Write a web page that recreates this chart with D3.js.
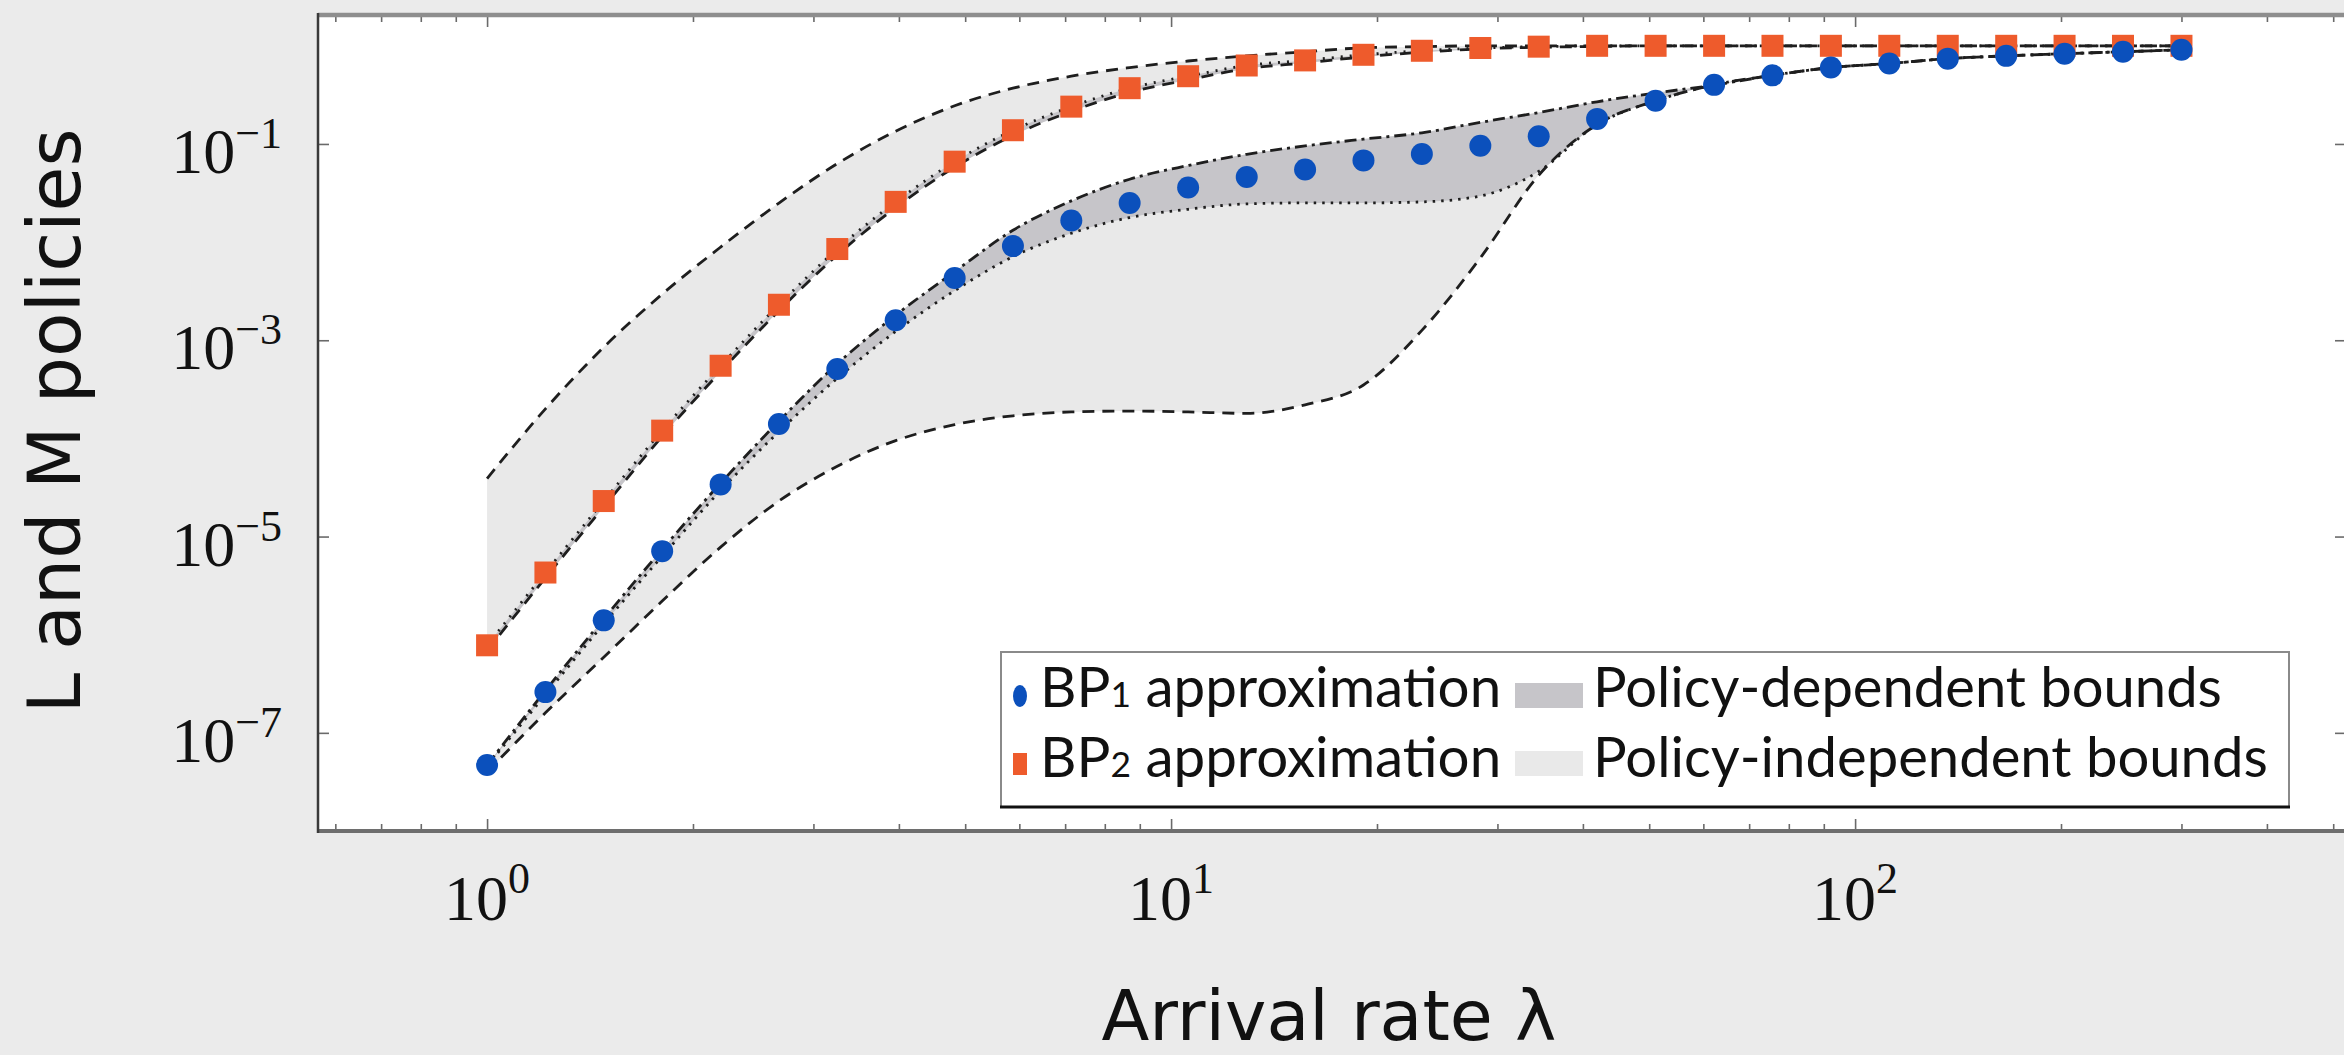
<!DOCTYPE html>
<html>
<head>
<meta charset="utf-8">
<script src="https://cdn.jsdelivr.net/npm/d3@7"></script>
<style>
  html, body { margin: 0; padding: 0; background: #ebebeb; }
  svg { display: block; }
</style>
</head>
<body>
<div id="chart"></div>
<script>
// arrival rates, one marker per value
const lambda = [1, 1.217, 1.481, 1.803, 2.195, 2.671, 3.251, 3.957, 4.826, 5.872,
  7.147, 8.698, 10.59, 12.90, 15.70, 19.11, 23.26, 28.32, 34.47, 41.96,
  51.09, 62.21, 75.72, 92.17, 112.2, 136.6, 166.3, 202.4, 246.4, 300];

// BP1 approximation (M policy, blue circles)
const bp1 = [4.7e-8, 2.6e-7, 1.4e-6, 7.1e-6, 3.4e-5, 1.4e-4, 5.1e-4, 1.6e-3, 4.3e-3, 9.1e-3,
  0.0166, 0.025, 0.036, 0.046, 0.055, 0.068, 0.079, 0.096, 0.12, 0.18,
  0.275, 0.40, 0.50, 0.60, 0.66, 0.74, 0.79, 0.83, 0.87, 0.91];

// BP2 approximation (L policy, orange squares)
const bp2 = [7.8e-7, 4.3e-6, 2.3e-5, 1.2e-4, 5.5e-4, 2.3e-3, 8.5e-3, 0.0257, 0.066, 0.138,
  0.24, 0.37, 0.49, 0.63, 0.71, 0.81, 0.89, 0.95, 0.98, 1.0,
  1.0, 1.0, 1.0, 1.0, 1.0, 1.0, 1.0, 1.0, 1.0, 1.0];

// L policy bounds
const lIndepUpper = [3.9e-5, 2.0e-4, 8.5e-4, 2.95e-3, 8.9e-3, 0.025, 0.063, 0.135, 0.245, 0.37,
  0.49, 0.60, 0.70, 0.79, 0.87, 0.955, 0.98, 1.0, 1.0, 1.0,
  1.0, 1.0, 1.0, 1.0, 1.0, 1.0, 1.0, 1.0, 1.0, 1.0];
const lDepLower = [6.9e-7, 3.8e-6, 2.0e-5, 1.05e-4, 4.8e-4, 2.0e-3, 7.4e-3, 0.0225, 0.058, 0.122,
  0.215, 0.335, 0.45, 0.585, 0.67, 0.77, 0.86, 0.93, 0.965, 0.985,
  1.0, 1.0, 1.0, 1.0, 1.0, 1.0, 1.0, 1.0, 1.0, 1.0];

// M policy bounds
const mDepUpper = [4.7e-8, 2.7e-7, 1.45e-6, 7.4e-6, 3.5e-5, 1.5e-4, 5.75e-4, 1.8e-3, 5.0e-3, 0.0132,
  0.0263, 0.0437, 0.0603, 0.0785, 0.0955, 0.112, 0.130, 0.166, 0.209, 0.269,
  0.331, 0.398, 0.50, 0.60, 0.66, 0.74, 0.79, 0.83, 0.87, 0.91];
const mDepLower = [4.6e-8, 2.45e-7, 1.29e-6, 6.3e-6, 2.95e-5, 1.17e-4, 4.1e-4, 1.23e-3, 3.2e-3, 7.1e-3,
  0.0123, 0.0178, 0.0216, 0.0245, 0.0251, 0.0251, 0.0257, 0.0295, 0.0525, 0.158,
  0.275, 0.40, 0.50, 0.60, 0.66, 0.74, 0.79, 0.83, 0.87, 0.91];
const mIndepLower = [4.0e-8, 1.6e-7, 5.9e-7, 2.2e-6, 7.8e-6, 2.3e-5, 5.2e-5, 9.5e-5, 1.38e-4, 1.7e-4,
  1.86e-4, 1.9e-4, 1.86e-4, 1.8e-4, 2.2e-4, 3.5e-4, 1.26e-3, 6.9e-3, 0.048, 0.158,
  0.275, 0.40, 0.50, 0.60, 0.66, 0.74, 0.79, 0.83, 0.87, 0.91];

// axis ticks
const xMajorTicks = [1, 10, 100];
const xMajorLabels = ["0", "1", "2"];
const xMinorTicks = [0.6, 0.7, 0.8, 0.9, 2, 3, 4, 5, 6, 7, 8, 9,
  20, 30, 40, 50, 60, 70, 80, 90, 200, 300, 400, 500];
const yTicks = [1e-1, 1e-3, 1e-5, 1e-7];
const yTickLabels = ["\u22121", "\u22123", "\u22125", "\u22127"];

const legendMarkers = ["BP", "BP"];
const legendMarkerSubs = ["1", "2"];
const legendFills = ["Policy-dependent bounds", "Policy-independent bounds"];

document.addEventListener("DOMContentLoaded", function () {
  const width = 2344, height = 1055;
  const plot = { left: 318, right: 2346, top: 15, bottom: 831 };

  const colors = {
    bg: "#ebebeb",
    light: "#e9e9e9",
    dark: "#c6c5c9",
    blue: "#0b50bc",
    orange: "#ee5b2c",
    line: "#1e1e1e"
  };

  const svg = d3.select("#chart")
    .append("svg")
    .attr("width", width)
    .attr("height", height)
    .attr("viewBox", `0 0 ${width} ${height}`);

  svg.append("rect").attr("width", width).attr("height", height).attr("fill", colors.bg);
  svg.append("rect")
    .attr("x", plot.left).attr("y", plot.top)
    .attr("width", plot.right - plot.left).attr("height", plot.bottom - plot.top)
    .attr("fill", "#fff");

  const x = d3.scaleLog().domain([0.566, 522]).range([plot.left, plot.right]);
  const y = d3.scaleLog().domain([1e-8, 2.06]).range([plot.bottom, plot.top]);

  svg.append("clipPath").attr("id", "clip")
    .append("rect")
    .attr("x", plot.left).attr("y", plot.top)
    .attr("width", plot.right - plot.left).attr("height", plot.bottom - plot.top);

  const g = svg.append("g").attr("clip-path", "url(#clip)");

  const rows = (arr) => lambda.map((l, i) => [l, arr[i]]);
  const band = (lo, hi) => lambda.map((l, i) => ({ l: l, lo: lo[i], hi: hi[i] }));

  const line = d3.line()
    .x(d => x(d[0]))
    .y(d => y(d[1]))
    .curve(d3.curveMonotoneX);

  const area = d3.area()
    .x(d => x(d.l))
    .y0(d => y(d.lo))
    .y1(d => y(d.hi))
    .curve(d3.curveMonotoneX);

  // policy-independent bounds (light)
  g.append("path").attr("d", area(band(lDepLower, lIndepUpper))).attr("fill", colors.light);
  g.append("path").attr("d", area(band(mIndepLower, mDepUpper))).attr("fill", colors.light);
  // policy-dependent bounds (dark)
  g.append("path").attr("d", area(band(lDepLower, bp2))).attr("fill", colors.dark);
  g.append("path").attr("d", area(band(mDepLower, mDepUpper))).attr("fill", colors.dark);

  const lineStyles = [
    { data: lIndepUpper, dash: "12,8" },
    { data: lDepLower, dash: "12,8" },
    { data: bp2, dash: "2,7" },
    { data: mDepUpper, dash: "12,5,3,5" },
    { data: mDepLower, dash: "2.5,6" },
    { data: mIndepLower, dash: "12,8" }
  ];
  lineStyles.forEach(s => {
    g.append("path")
      .attr("d", line(rows(s.data)))
      .attr("fill", "none")
      .attr("stroke", colors.line)
      .attr("stroke-width", 2.8)
      .attr("stroke-dasharray", s.dash);
  });

  // markers
  const sq = 22;
  g.selectAll("rect.bp2")
    .data(rows(bp2))
    .enter().append("rect")
    .attr("class", "bp2")
    .attr("x", d => x(d[0]) - sq / 2)
    .attr("y", d => y(d[1]) - sq / 2)
    .attr("width", sq).attr("height", sq)
    .attr("fill", colors.orange);

  g.selectAll("circle.bp1")
    .data(rows(bp1))
    .enter().append("circle")
    .attr("class", "bp1")
    .attr("cx", d => x(d[0]))
    .attr("cy", d => y(d[1]))
    .attr("r", 11)
    .attr("fill", colors.blue);

  // ticks (all inward)
  const tickAxis = (axis, transform, size, values) => {
    const a = svg.append("g")
      .attr("transform", transform)
      .call(axis.tickValues(values).tickSize(size).tickFormat(""));
    a.select(".domain").remove();
    a.selectAll("line").attr("stroke", "#6a6a6a").attr("stroke-width", 1.6);
  };
  tickAxis(d3.axisBottom(x), `translate(0,${plot.bottom})`, -12, xMajorTicks);
  tickAxis(d3.axisBottom(x), `translate(0,${plot.bottom})`, -7, xMinorTicks);
  tickAxis(d3.axisTop(x), `translate(0,${plot.top})`, -12, xMajorTicks);
  tickAxis(d3.axisTop(x), `translate(0,${plot.top})`, -7, xMinorTicks);
  tickAxis(d3.axisLeft(y), `translate(${plot.left},0)`, -11, yTicks);
  tickAxis(d3.axisRight(y), `translate(${plot.right},0)`, -11, yTicks);

  // frame
  svg.append("line").attr("x1", plot.left).attr("x2", plot.right)
    .attr("y1", plot.top).attr("y2", plot.top)
    .attr("stroke", "#8e8e8e").attr("stroke-width", 4.5);
  svg.append("line").attr("x1", plot.left).attr("x2", plot.right)
    .attr("y1", plot.bottom).attr("y2", plot.bottom)
    .attr("stroke", "#6e6e6e").attr("stroke-width", 4);
  svg.append("line").attr("x1", plot.left).attr("x2", plot.left)
    .attr("y1", plot.top - 2).attr("y2", plot.bottom + 2)
    .attr("stroke", "#3a3a3a").attr("stroke-width", 2.5);

  // tick labels
  const serif = "'Liberation Serif', 'Times New Roman', serif";
  xMajorTicks.forEach((v, i) => {
    const t = svg.append("text")
      .attr("x", x(v))
      .attr("y", 920)
      .attr("text-anchor", "middle")
      .attr("font-family", serif)
      .attr("font-size", 64)
      .attr("fill", "#111");
    t.append("tspan").text("10");
    t.append("tspan").attr("dy", -27).attr("font-size", 44).text(xMajorLabels[i]);
  });
  yTicks.forEach((v, i) => {
    const t = svg.append("text")
      .attr("x", 282)
      .attr("y", y(v) + 29)
      .attr("text-anchor", "end")
      .attr("font-family", serif)
      .attr("font-size", 64)
      .attr("fill", "#111");
    t.append("tspan").text("10");
    t.append("tspan").attr("dy", -25).attr("font-size", 44).text(yTickLabels[i]);
  });

  // helper: scale font so text spans a given width
  function fitText(sel, target) {
    const w = sel.node().getComputedTextLength();
    const fs = parseFloat(sel.attr("font-size"));
    if (w > 0) sel.attr("font-size", fs * target / w);
  }

  const sans = "Lato, 'Open Sans', sans-serif";
  const titleFont = "'DejaVu Sans', 'Open Sans', sans-serif";

  // axis titles
  const xTitle = svg.append("text")
    .attr("x", (plot.left + plot.right) / 2 - 3)
    .attr("y", 1040)
    .attr("text-anchor", "middle")
    .attr("font-family", titleFont)
    .attr("font-size", 64)
    .attr("fill", "#111")
    .text("Arrival rate \u03bb");
  fitText(xTitle, 455);

  const yTitle = svg.append("text")
    .attr("transform", `translate(80,${(plot.top + plot.bottom) / 2 - 2}) rotate(-90)`)
    .attr("text-anchor", "middle")
    .attr("font-family", titleFont)
    .attr("font-size", 64)
    .attr("fill", "#111")
    .text("L and M policies");
  fitText(yTitle, 585);

  // legend
  const lg = svg.append("g");
  lg.append("rect")
    .attr("x", 1001).attr("y", 652)
    .attr("width", 1288).attr("height", 155)
    .attr("fill", "#fff")
    .attr("stroke", "#8a8a8a").attr("stroke-width", 2);
  lg.append("line")
    .attr("x1", 1000).attr("x2", 2290).attr("y1", 807).attr("y2", 807)
    .attr("stroke", "#111").attr("stroke-width", 3);

  const rowY = [707, 777];
  const markY = [696, 764];

  lg.append("ellipse").attr("cx", 1020).attr("cy", markY[0])
    .attr("rx", 7).attr("ry", 11).attr("fill", colors.blue);
  lg.append("rect").attr("x", 1013).attr("y", markY[1] - 11)
    .attr("width", 14).attr("height", 22).attr("fill", colors.orange);

  const legendFontSize = 52;
  legendMarkers.forEach((lbl, i) => {
    const t = lg.append("text")
      .attr("x", 1040).attr("y", rowY[i])
      .attr("font-family", sans)
      .attr("font-size", legendFontSize)
      .attr("fill", "#111");
    t.append("tspan").text(lbl);
    t.append("tspan").attr("font-size", legendFontSize * 0.68).text(legendMarkerSubs[i]);
    t.append("tspan").text(" approximation");
    fitText(t, 463);
  });

  const swatchColors = [colors.dark, colors.light];
  legendFills.forEach((lbl, i) => {
    lg.append("rect")
      .attr("x", 1515).attr("y", markY[i] - 13)
      .attr("width", 68).attr("height", 25)
      .attr("fill", swatchColors[i]);
    const t = lg.append("text")
      .attr("x", 1593).attr("y", rowY[i])
      .attr("font-family", sans)
      .attr("font-size", legendFontSize)
      .attr("fill", "#111")
      .text(lbl);
    fitText(t, i === 0 ? 629 : 675);
  });
});
</script>
</body>
</html>
